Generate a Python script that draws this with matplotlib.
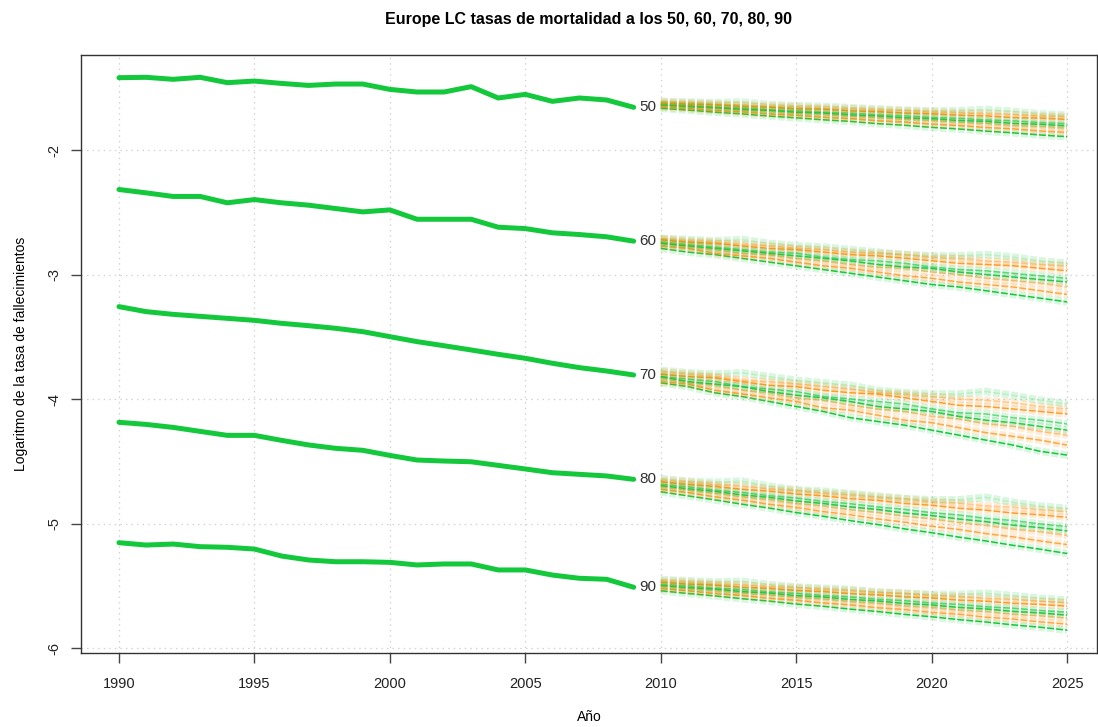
import numpy as np
import matplotlib
matplotlib.use("Agg")
import matplotlib.pyplot as plt

plt.rcParams['font.family'] = ['Liberation Sans', 'DejaVu Sans']
plt.rcParams['lines.scale_dashes'] = False

# observed log death rates, 1990-2009
years_hist = list(range(1990, 2010))
ages = ["50", "60", "70", "80", "90"]
hist50 = [-1.419, -1.416, -1.432, -1.416, -1.459, -1.446, -1.465, -1.481, -1.470, -1.470,
          -1.513, -1.534, -1.534, -1.491, -1.582, -1.553, -1.609, -1.582, -1.598, -1.657]
hist60 = [-2.317, -2.344, -2.373, -2.373, -2.424, -2.398, -2.424, -2.443, -2.470, -2.497,
          -2.481, -2.556, -2.556, -2.556, -2.620, -2.631, -2.665, -2.679, -2.697, -2.732]
hist70 = [-3.258, -3.298, -3.320, -3.336, -3.352, -3.368, -3.392, -3.411, -3.432, -3.459,
          -3.499, -3.539, -3.572, -3.606, -3.641, -3.673, -3.713, -3.748, -3.775, -3.807]
hist80 = [-4.187, -4.204, -4.228, -4.260, -4.292, -4.292, -4.332, -4.369, -4.396, -4.412,
          -4.453, -4.490, -4.498, -4.504, -4.533, -4.562, -4.592, -4.605, -4.618, -4.645]
hist90 = [-5.154, -5.173, -5.165, -5.186, -5.191, -5.205, -5.261, -5.293, -5.307, -5.307,
          -5.312, -5.333, -5.325, -5.325, -5.373, -5.373, -5.414, -5.440, -5.448, -5.512]

# simulated paths 2010-2025 (a few per age)
years_fc = list(range(2010, 2026))
fc50 = [
    [-1.665, -1.679, -1.696, -1.710, -1.727, -1.741, -1.757, -1.770, -1.788, -1.801, -1.818, -1.831, -1.848, -1.862, -1.879, -1.893],
    [-1.610, -1.615, -1.620, -1.615, -1.635, -1.645, -1.650, -1.660, -1.670, -1.680, -1.685, -1.685, -1.675, -1.690, -1.710, -1.720],
    [-1.622, -1.631, -1.637, -1.650, -1.656, -1.668, -1.672, -1.685, -1.691, -1.703, -1.708, -1.720, -1.725, -1.739, -1.743, -1.754],
    [-1.633, -1.642, -1.655, -1.663, -1.676, -1.684, -1.697, -1.704, -1.718, -1.725, -1.739, -1.746, -1.759, -1.766, -1.780, -1.789],
    [-1.643, -1.656, -1.666, -1.681, -1.690, -1.705, -1.713, -1.729, -1.738, -1.754, -1.761, -1.777, -1.785, -1.802, -1.810, -1.823],
    [-1.654, -1.667, -1.683, -1.694, -1.711, -1.721, -1.738, -1.748, -1.765, -1.776, -1.792, -1.803, -1.819, -1.830, -1.847, -1.858],
    [-1.638, -1.650, -1.659, -1.673, -1.681, -1.696, -1.703, -1.718, -1.726, -1.741, -1.748, -1.763, -1.770, -1.786, -1.793, -1.806],
    [-1.615, -1.622, -1.632, -1.638, -1.648, -1.653, -1.664, -1.668, -1.680, -1.684, -1.695, -1.700, -1.710, -1.716, -1.726, -1.732],
]
fc60 = [
    [-2.79, -2.82, -2.84, -2.87, -2.90, -2.93, -2.96, -2.99, -3.02, -3.05, -3.08, -3.10, -3.13, -3.16, -3.19, -3.22],
    [-2.71, -2.72, -2.73, -2.72, -2.75, -2.77, -2.78, -2.80, -2.82, -2.84, -2.85, -2.85, -2.84, -2.86, -2.89, -2.91],
    [-2.72, -2.74, -2.75, -2.77, -2.79, -2.80, -2.82, -2.84, -2.85, -2.87, -2.89, -2.91, -2.92, -2.93, -2.95, -2.97],
    [-2.74, -2.76, -2.78, -2.80, -2.82, -2.83, -2.86, -2.88, -2.89, -2.91, -2.94, -2.96, -2.97, -2.99, -3.01, -3.03],
    [-2.75, -2.78, -2.80, -2.83, -2.84, -2.87, -2.89, -2.92, -2.94, -2.95, -2.98, -3.00, -3.03, -3.05, -3.07, -3.10],
    [-2.77, -2.79, -2.83, -2.85, -2.87, -2.90, -2.93, -2.95, -2.98, -3.01, -3.03, -3.06, -3.08, -3.10, -3.13, -3.16],
    [-2.75, -2.77, -2.79, -2.81, -2.83, -2.85, -2.87, -2.89, -2.92, -2.94, -2.95, -2.98, -3.00, -3.02, -3.04, -3.06],
    [-2.71, -2.73, -2.74, -2.76, -2.77, -2.79, -2.80, -2.82, -2.83, -2.84, -2.86, -2.87, -2.89, -2.90, -2.92, -2.93],
]
fc70 = [
    [-3.87, -3.90, -3.95, -3.98, -4.02, -4.06, -4.10, -4.15, -4.18, -4.21, -4.25, -4.29, -4.33, -4.37, -4.42, -4.45],
    [-3.77, -3.79, -3.80, -3.79, -3.82, -3.85, -3.87, -3.89, -3.93, -3.95, -3.96, -3.96, -3.94, -3.97, -4.01, -4.04],
    [-3.80, -3.82, -3.83, -3.86, -3.89, -3.90, -3.93, -3.95, -3.96, -3.99, -4.02, -4.05, -4.06, -4.08, -4.10, -4.12],
    [-3.82, -3.84, -3.86, -3.90, -3.92, -3.94, -3.98, -4.00, -4.02, -4.04, -4.08, -4.11, -4.12, -4.15, -4.17, -4.20],
    [-3.83, -3.87, -3.89, -3.93, -3.95, -3.99, -4.01, -4.05, -4.08, -4.10, -4.14, -4.16, -4.20, -4.22, -4.26, -4.29],
    [-3.86, -3.88, -3.93, -3.96, -3.99, -4.02, -4.07, -4.09, -4.13, -4.17, -4.19, -4.23, -4.27, -4.30, -4.33, -4.37],
    [-3.82, -3.86, -3.88, -3.90, -3.94, -3.97, -3.99, -4.02, -4.06, -4.08, -4.10, -4.14, -4.17, -4.19, -4.22, -4.25],
    [-3.78, -3.80, -3.82, -3.85, -3.86, -3.88, -3.90, -3.92, -3.95, -3.96, -3.98, -4.00, -4.01, -4.03, -4.06, -4.08],
]
fc80 = [
    [-4.745, -4.778, -4.810, -4.845, -4.876, -4.912, -4.942, -4.977, -5.008, -5.043, -5.074, -5.109, -5.140, -5.175, -5.206, -5.241],
    [-4.640, -4.660, -4.670, -4.660, -4.700, -4.730, -4.740, -4.760, -4.780, -4.800, -4.810, -4.810, -4.790, -4.830, -4.860, -4.880],
    [-4.665, -4.686, -4.702, -4.725, -4.739, -4.763, -4.778, -4.801, -4.815, -4.839, -4.854, -4.877, -4.893, -4.916, -4.930, -4.951],
    [-4.685, -4.705, -4.733, -4.751, -4.777, -4.796, -4.823, -4.841, -4.867, -4.886, -4.913, -4.931, -4.958, -4.976, -5.003, -5.024],
    [-4.705, -4.733, -4.755, -4.785, -4.807, -4.838, -4.859, -4.889, -4.911, -4.942, -4.963, -4.993, -5.016, -5.046, -5.067, -5.096],
    [-4.725, -4.752, -4.786, -4.812, -4.845, -4.871, -4.904, -4.930, -4.963, -4.989, -5.022, -5.048, -5.081, -5.107, -5.140, -5.169],
    [-4.695, -4.721, -4.742, -4.770, -4.790, -4.819, -4.839, -4.867, -4.887, -4.916, -4.936, -4.964, -4.985, -5.013, -5.033, -5.060],
    [-4.653, -4.667, -4.689, -4.701, -4.722, -4.735, -4.756, -4.769, -4.789, -4.803, -4.824, -4.836, -4.858, -4.870, -4.891, -4.906],
]
fc90 = [
    [-5.540, -5.562, -5.581, -5.604, -5.623, -5.647, -5.665, -5.688, -5.707, -5.730, -5.749, -5.772, -5.791, -5.814, -5.833, -5.856],
    [-5.450, -5.460, -5.470, -5.465, -5.490, -5.510, -5.520, -5.530, -5.550, -5.560, -5.570, -5.570, -5.560, -5.580, -5.600, -5.615],
    [-5.471, -5.486, -5.495, -5.512, -5.521, -5.538, -5.546, -5.563, -5.572, -5.589, -5.598, -5.615, -5.624, -5.641, -5.650, -5.664],
    [-5.488, -5.501, -5.520, -5.531, -5.550, -5.561, -5.579, -5.590, -5.609, -5.620, -5.639, -5.650, -5.669, -5.680, -5.699, -5.712],
    [-5.506, -5.525, -5.538, -5.559, -5.572, -5.593, -5.605, -5.626, -5.639, -5.660, -5.673, -5.694, -5.707, -5.728, -5.741, -5.760],
    [-5.523, -5.540, -5.563, -5.578, -5.601, -5.616, -5.638, -5.653, -5.676, -5.691, -5.714, -5.729, -5.752, -5.767, -5.790, -5.808],
    [-5.497, -5.515, -5.527, -5.547, -5.559, -5.579, -5.590, -5.610, -5.622, -5.642, -5.654, -5.674, -5.686, -5.706, -5.718, -5.736],
    [-5.460, -5.470, -5.486, -5.494, -5.509, -5.516, -5.531, -5.539, -5.555, -5.562, -5.578, -5.586, -5.602, -5.609, -5.624, -5.634],
]

x_ticks = [1990, 1995, 2000, 2005, 2010, 2015, 2020, 2025]
y_ticks = [-2, -3, -4, -5, -6]

hist_all = [hist50, hist60, hist70, hist80, hist90]
fc_all = [fc50, fc60, fc70, fc80, fc90]

green = "#14C83C"
orange = "#FF8C00"
path_colors = [green, green, orange, green, orange, orange, green, orange]
path_alpha = [1.0, 0.15, 0.8, 0.6, 0.45, 0.7, 0.9, 0.35]

fig = plt.figure(figsize=(10.98, 7.27), dpi=100)
ax = fig.add_axes([0.0738, 0.1018, 0.9252, 0.8225])

ax.grid(True, linestyle=(0, (1, 3)), color="#CFCFCF", linewidth=0.9)
ax.set_axisbelow(True)

for hist, fc, lab in zip(hist_all, fc_all, ages):
    ax.plot(years_hist, hist, color=green, lw=3.6, solid_capstyle='round', zorder=3)
    ax.annotate(lab, (years_hist[-1], hist[-1]), xytext=(4, 0), textcoords='offset points',
                va='center', ha='left', fontsize=11, color='#303030', zorder=4)
    for path, c, a in zip(fc, path_colors, path_alpha):
        # pale wide underlay gives the fan its shaded look
        ax.plot(years_fc, path, color=c, alpha=0.16, lw=5.5, dashes=(5, 1.5), zorder=2)
        ax.plot(years_fc, path, color=c, alpha=a, lw=1.1, dashes=(5, 1.5), zorder=2)

ax.set_xlim(1988.6, 2026.1)
ax.set_ylim(-6.04, -1.237)
ax.set_xticks(x_ticks)
ax.set_yticks(y_ticks)
ax.set_yticklabels([str(v) for v in y_ticks], rotation=90, va='center')
ax.tick_params(axis='both', length=7, width=1, color='#444444', labelsize=10.5, labelcolor='#222222')
ax.tick_params(axis='x', pad=10)
ax.tick_params(axis='y', pad=7)
for s in ax.spines.values():
    s.set_color('#333333')
    s.set_linewidth(1)

ax.set_title('Europe LC tasas de mortalidad a los 50, 60, 70, 80, 90',
             fontsize=11.5, fontweight='bold', pad=22)
ax.set_xlabel('Año', fontsize=10, labelpad=14)
ax.set_ylabel('Logaritmo de la tasa de fallecimientos', fontsize=10, labelpad=14)

plt.savefig("out.png", dpi=100)
